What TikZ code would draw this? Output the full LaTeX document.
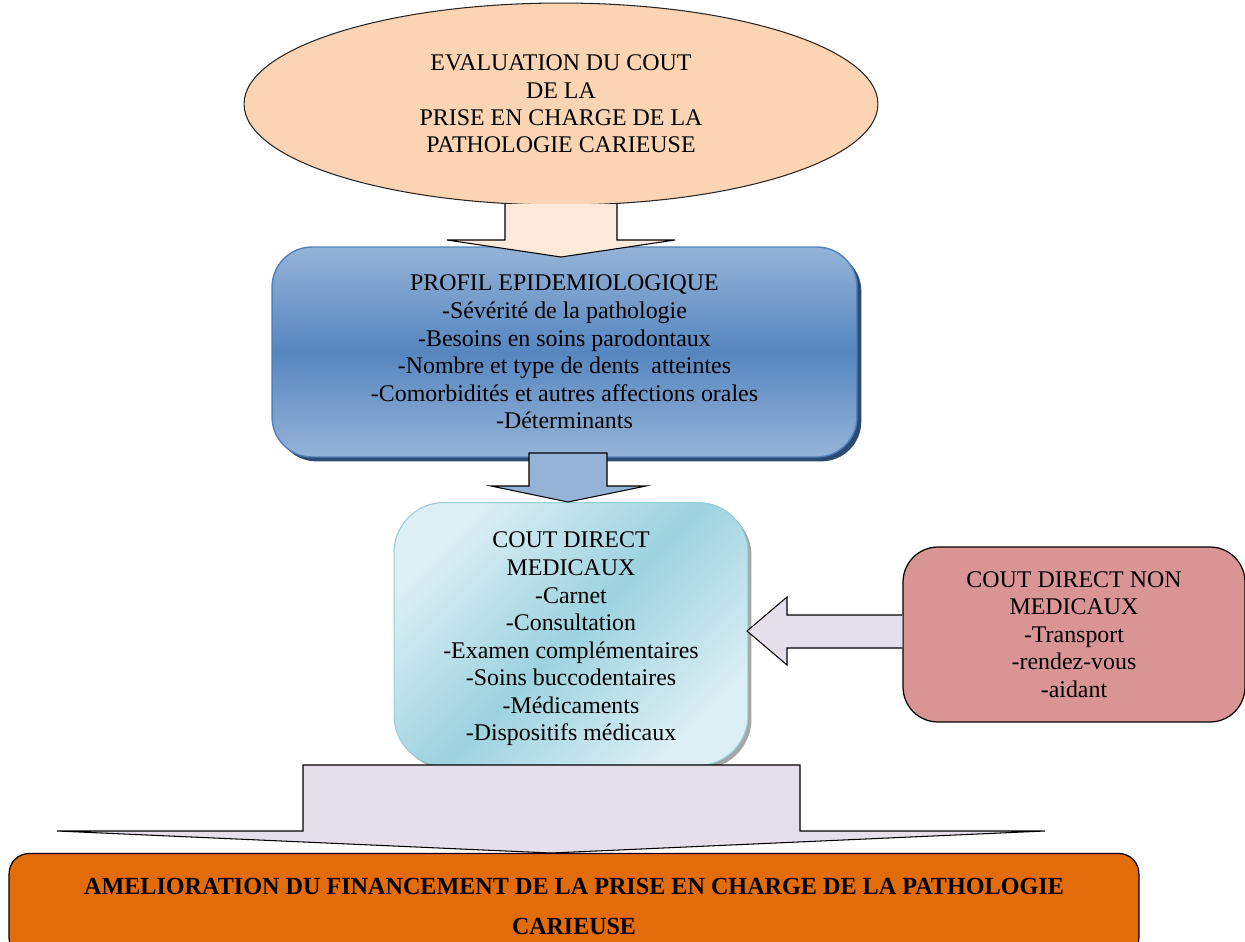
\documentclass[tikz,border=0pt]{standalone}
\usepackage{fontspec}
\usepackage{graphicx}
\setmainfont{Liberation Serif}
\usetikzlibrary{shapes.geometric,shadows}

\definecolor{peach}{HTML}{FBD4B4}
\definecolor{peachL}{HTML}{FDE9D9}
\definecolor{bleuL}{HTML}{95B3D7}
\definecolor{bleuM}{HTML}{4F81BD}
\definecolor{bleuD}{HTML}{2C4A72}
\definecolor{cyanL}{HTML}{DCEFF4}
\definecolor{cyanD}{HTML}{92CDDC}
\definecolor{rose}{HTML}{D99594}
\definecolor{lilas}{HTML}{E5DFEC}
\definecolor{orange}{HTML}{E36C0A}

\begin{document}
\begin{tikzpicture}[x=0.02cm,y=-0.02cm,
    boite/.style={rounded corners=#1, inner sep=0pt, align=center,
        font=\fontsize{13.6}{15.7}\selectfont},
    fleche/.style={draw=black, line width=0.6pt, line join=miter}]
    \useasboundingbox (0,0) rectangle (1245,941);

    % ellipse du haut
    \node[ellipse, draw=black!85, line width=0.6pt, fill=peach, minimum width=12.68cm,
        minimum height=4.04cm, inner sep=0pt, align=center,
        font=\fontsize{13.6}{15.5}\selectfont] (eval) at (561,104)
        {EVALUATION DU COUT\\DE LA\\PRISE EN CHARGE DE LA\\PATHOLOGIE CARIEUSE};

    % profil epidemiologique
    \node[boite=0.8cm, draw=bleuM, line width=0.8pt, minimum width=11.7cm, minimum height=4.2cm,
        top color=bleuL, bottom color=bleuL, middle color=bleuM!90!bleuL,
        drop shadow={shadow xshift=2.5pt, shadow yshift=-2.5pt, fill=bleuD, opacity=1}]
        (profil) at (564.5,352)
        {PROFIL EPIDEMIOLOGIQUE\\-Sévérité de la pathologie\\-Besoins en soins parodontaux\\
         -Nombre et type de dents\ \ atteintes\\-Comorbidités et autres affections orales\\-Déterminants};

    % fleche 1
    \filldraw[fleche, fill=peachL] (505,204) -- (505,240) -- (447,240) -- (561,257)
        -- (675,240) -- (617,240) -- (617,204);

    % cout direct medicaux
    \node[boite=1cm, draw=cyanD, line width=0.6pt, minimum width=7.08cm, minimum height=5.26cm,
        top color=cyanL, bottom color=cyanL, middle color=cyanD!85!cyanL, shading angle=45,
        drop shadow={shadow xshift=2pt, shadow yshift=-2pt, fill=black!35, opacity=1}]
        (medic) at (571,634) {};
    \node[boite=0pt] (medictxt) at (571,639)
        {COUT DIRECT\\MEDICAUX\\-Carnet\\-Consultation\\-Examen complémentaires\\
         -Soins buccodentaires\\-Médicaments\\-Dispositifs médicaux};

    % fleche 2
    \filldraw[fleche, fill=bleuL] (529,453) -- (529,486) -- (491,486) -- (568,502)
        -- (646,486) -- (607,486) -- (607,453) -- cycle;

    % cout direct non medicaux
    \node[boite=0.7cm, draw=black, line width=0.7pt, fill=rose, minimum width=6.84cm,
        minimum height=3.5cm] (nonmedic) at (1074,634.5)
        {COUT DIRECT NON\\MEDICAUX\\-Transport\\-rendez-vous\\-aidant};

    % fleche laterale
    \filldraw[fleche, fill=lilas] (nonmedic.west |- 0,615) -- (787,615) -- (787,597) -- (747,631)
        -- (787,665) -- (787,648) -- (nonmedic.west |- 0,648);

    % grande fleche du bas
    \filldraw[fleche, fill=lilas] (303,765) -- (303,831) -- (57,831) -- (551,853)
        -- (1045,831) -- (800,831) -- (800,765) -- cycle;

    % amelioration du financement
    \node[draw=black, line width=0.7pt, fill=orange, rounded corners=0.4cm, inner sep=0pt,
        minimum width=22.6cm, minimum height=2.1cm, align=center,
        font=\bfseries\fontsize{14}{22.8}\selectfont] (financ) at (574,906)
        {\resizebox{19.6cm}{\height}{AMELIORATION DU FINANCEMENT DE LA PRISE EN CHARGE DE LA PATHOLOGIE}\\
         \resizebox{2.48cm}{\height}{CARIEUSE}};
\end{tikzpicture}
\end{document}
